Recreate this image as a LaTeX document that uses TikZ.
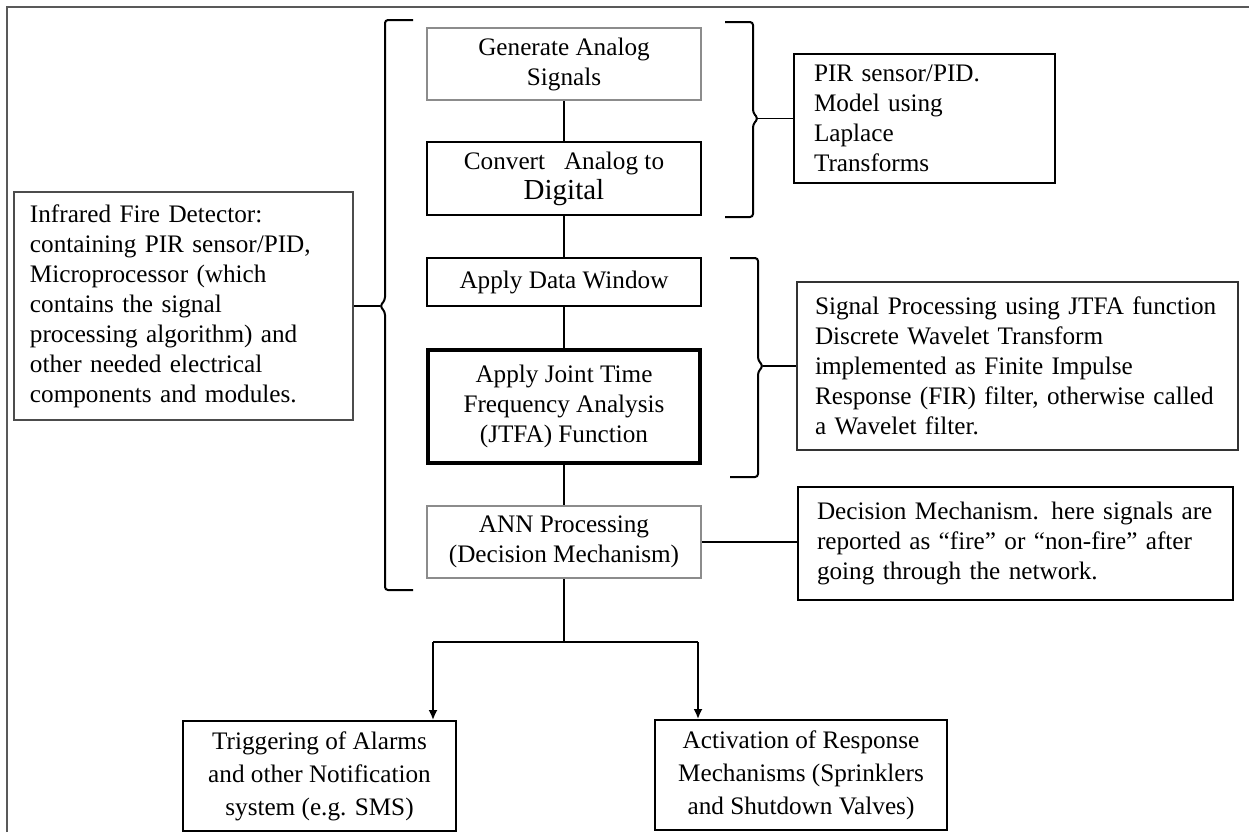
\documentclass[tikz,border=0pt]{standalone}
\usepackage{fontspec}
\setmainfont{Liberation Serif}
\usetikzlibrary{arrows.meta,calc}
\tikzset{
    block/.style = {draw, rectangle, line width=1pt, align=center,
        inner sep=0pt, minimum width=137pt,
        font=\fontsize{12.6}{15}\selectfont},
    faint/.style = {block, draw=black!45},
    note/.style = {draw, rectangle, line width=1pt, align=left,
        inner ysep=0pt, font=\fontsize{12.6}{15}\selectfont},
    result/.style = {block, minimum height=55pt,
        font=\fontsize{12.6}{16.5}\selectfont},
    brace/.style = {draw, line width=1pt, rounded corners=1.5pt},
    line/.style = {draw, line width=0.9pt},
    arrow/.style = {draw, line width=0.9pt, -{Latex[length=5pt,width=4.5pt]}}
}
\begin{document}
\begin{tikzpicture}[x=0.5pt,y=-0.5pt]
            \useasboundingbox (0,0) rectangle (1249,832);
            \draw[line width=1.2pt, black!65] (7,832) -- (7,7) -- (1249,7);
            % main column
            \node[faint, minimum height=36pt] (gen) at (564,64) {Generate Analog\\Signals};
            \node[block, minimum height=36.5pt] (conv) at (564,178.5) {Convert\ \ \ Analog to\\{\fontsize{14.5}{17}\selectfont Digital}};
            \node[block, minimum height=24pt] (win) at (564,282) {Apply Data Window};
            \node[block, line width=1.6pt, minimum width=136pt, minimum height=56.5pt] (jtfa) at (564,406.5) {Apply Joint Time\\Frequency Analysis\\(JTFA) Function};
            \node[faint, minimum height=36pt] (ann) at (564,542) {ANN Processing\\(Decision Mechanism)};
            % side notes
            \node[note, draw=black!70, text width=153.5pt, inner xsep=8pt, minimum height=114pt] (infra) at (183.5,306) {Infrared Fire Detector:\\containing PIR sensor/PID,\\Microprocessor (which\\contains the signal\\processing algorithm) and\\other needed electrical\\components and modules.};
            \node[note, text width=110.5pt, inner xsep=10pt, minimum height=64.5pt] (pir) at (924.5,118.5) {PIR sensor/PID.\\Model using\\Laplace\\Transforms};
            \node[note, draw=black!80, text width=202.5pt, inner xsep=9pt, minimum height=84pt] (sig) at (1017.5,366) {Signal Processing using JTFA function\\Discrete Wavelet Transform\\implemented as Finite Impulse\\Response (FIR) filter, otherwise called\\a Wavelet filter.};
            \node[note, text width=198.5pt, inner xsep=9.5pt, minimum height=56.5pt] (dec) at (1015.5,543.5) {Decision Mechanism. here signals are\\reported as ``fire'' or ``non-fire'' after\\going through the network.};
            % outputs
            \node[result, minimum width=136.5pt] (trig) at (319.5,776) {Triggering of Alarms\\and other Notification\\system (e.g. SMS)};
            \node[result, minimum width=146pt] (act) at (801,775) {Activation of Response\\Mechanisms (Sprinklers\\and Shutdown Valves)};
            % braces
            \draw[brace] (413,20) -- (385,20) -- (385,300) -- (380,306) -- (385,312) -- (385,590) -- (413,590);
            \draw[brace] (725,22) -- (753,22) -- (753,112.5) -- (758,118.5) -- (753,124.5) -- (753,217) -- (725,217);
            \draw[brace] (730,258) -- (758,258) -- (758,360) -- (763,366) -- (758,372) -- (758,477) -- (730,477);
            \coordinate (ltip) at (380,306);
            \coordinate (tip1) at (758,118.5);
            \coordinate (tip2) at (763,366);
            \draw[line] (ltip) -- (infra.east);
            \draw[line] (tip1) -- (pir.west);
            \draw[line] (tip2) -- (sig.west);
            % flow
            \draw[line] (gen) -- (conv);
            \draw[line] (conv) -- (win);
            \draw[line] (win) -- (jtfa);
            \draw[line] (jtfa) -- (ann);
            \draw[line] (ann.east) -- (ann.east -| dec.west);
            \coordinate (split) at (564,642);
            \coordinate (lbar) at (433,642);
            \coordinate (rbar) at (698,642);
            \draw[line] (ann) -- (split);
            \draw[line] (lbar) -- (rbar);
            \draw[arrow] (lbar) -- (lbar |- trig.north);
            \draw[arrow] (rbar) -- (rbar |- act.north);
\end{tikzpicture}
\end{document}
